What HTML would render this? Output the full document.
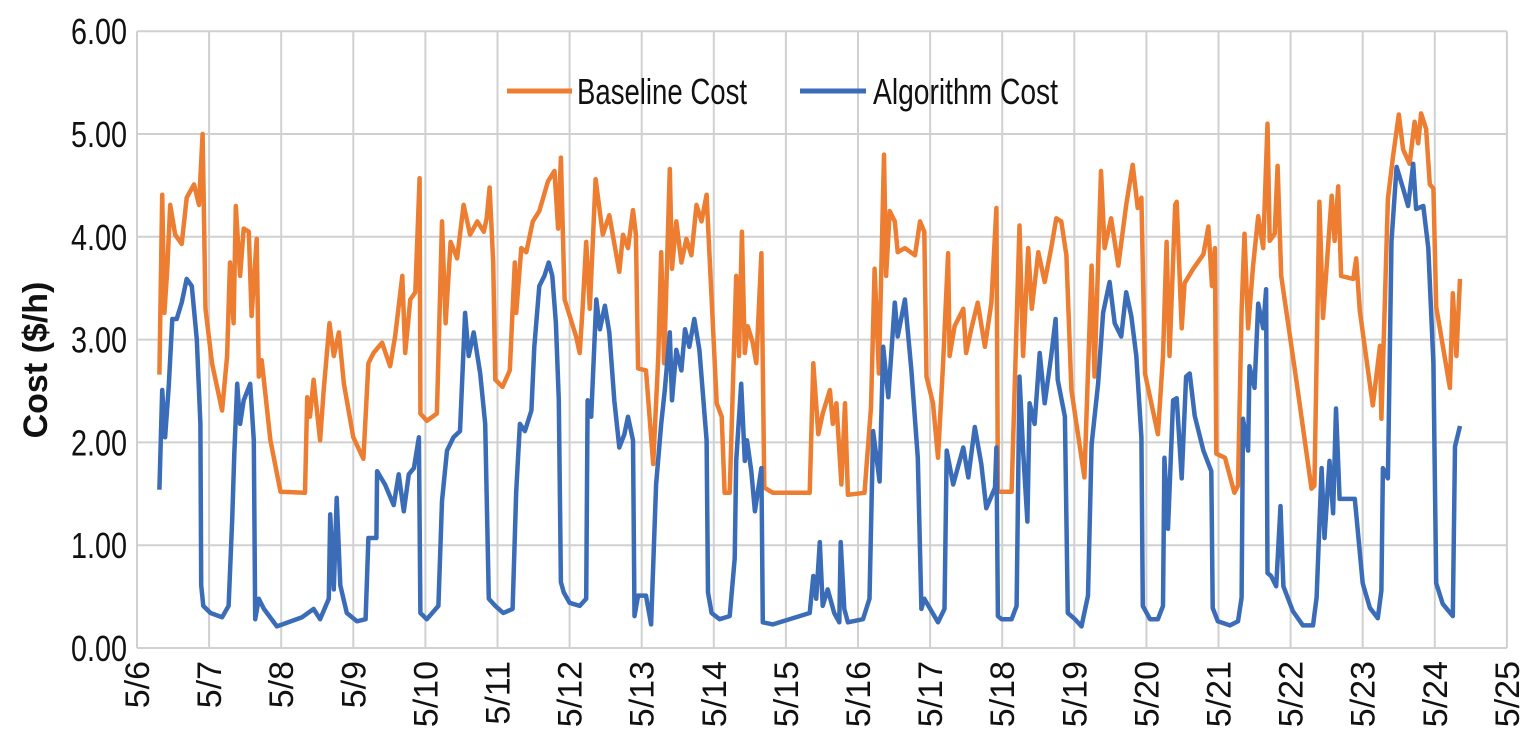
<!DOCTYPE html>
<html><head><meta charset="utf-8"><style>
body{margin:0;background:#fff;}
svg{display:block;font-family:"Liberation Sans Narrow","Liberation Sans",sans-serif;}
</style></head><body>
<svg id="chart" width="1531" height="744" viewBox="0 0 1531 744"></svg>
<script>
const xLabels=["5/6","5/7","5/8","5/9","5/10","5/11","5/12","5/13","5/14","5/15","5/16","5/17","5/18","5/19","5/20","5/21","5/22","5/23","5/24","5/25"];
const yTicks=[0,1,2,3,4,5,6];
const baseT=[0.31,0.35,0.38,0.42,0.46,0.53,0.62,0.69,0.79,0.86,0.91,0.95,1.04,1.18,1.25,1.29,1.34,1.37,1.43,1.48,1.55,1.59,1.66,1.69,1.73,1.85,1.99,2.33,2.36,2.40,2.45,2.54,2.59,2.67,2.73,2.80,2.87,3.0,3.14,3.21,3.28,3.40,3.51,3.58,3.68,3.72,3.79,3.86,3.92,3.93,4.02,4.16,4.23,4.28,4.35,4.44,4.53,4.62,4.72,4.81,4.85,4.89,4.94,4.97,5.07,5.17,5.24,5.26,5.33,5.40,5.49,5.58,5.70,5.79,5.84,5.88,5.93,6.09,6.14,6.18,6.23,6.28,6.36,6.46,6.55,6.69,6.74,6.81,6.88,6.92,6.95,7.06,7.16,7.23,7.27,7.31,7.39,7.42,7.48,7.55,7.62,7.69,7.76,7.83,7.90,7.94,8.04,8.11,8.15,8.22,8.31,8.35,8.39,8.43,8.47,8.54,8.59,8.66,8.70,8.82,9.33,9.38,9.45,9.51,9.61,9.65,9.70,9.77,9.82,9.86,10.09,10.18,10.23,10.29,10.36,10.39,10.44,10.51,10.55,10.65,10.79,10.86,10.92,10.95,11.04,11.11,11.18,11.25,11.27,11.34,11.46,11.50,11.57,11.66,11.76,11.85,11.92,11.94,12.13,12.20,12.24,12.29,12.36,12.41,12.50,12.59,12.68,12.75,12.82,12.89,12.96,13.14,13.24,13.28,13.37,13.42,13.51,13.61,13.72,13.81,13.88,13.93,13.98,14.16,14.23,14.28,14.32,14.40,14.42,14.49,14.53,14.65,14.79,14.86,14.91,14.95,14.97,15.09,15.22,15.27,15.32,15.36,15.41,15.48,15.55,15.62,15.68,15.71,15.78,15.82,15.87,16.08,16.29,16.33,16.40,16.45,16.57,16.61,16.66,16.70,16.87,16.91,16.96,17.14,17.24,17.26,17.35,17.42,17.50,17.56,17.65,17.72,17.77,17.81,17.88,17.93,17.98,18.02,18.21,18.25,18.30,18.35];
const baseV=[2.66,4.41,3.26,3.69,4.31,4.02,3.93,4.38,4.51,4.31,5.0,3.30,2.77,2.31,2.84,3.75,3.16,4.30,3.62,4.08,4.05,3.23,3.98,2.64,2.80,2.02,1.52,1.51,2.44,2.25,2.61,2.02,2.51,3.16,2.84,3.07,2.57,2.05,1.84,2.77,2.87,2.97,2.74,3.03,3.62,2.87,3.39,3.46,4.57,2.28,2.21,2.28,4.15,3.16,3.95,3.79,4.31,4.02,4.15,4.05,4.18,4.48,3.75,2.61,2.54,2.70,3.75,3.26,3.89,3.85,4.15,4.25,4.54,4.64,4.08,4.77,3.39,3.03,2.87,3.30,3.95,3.30,4.56,4.02,4.21,3.66,4.02,3.89,4.26,4.02,2.72,2.70,1.79,2.84,3.85,2.77,4.66,3.69,4.15,3.75,3.98,3.82,4.31,4.15,4.41,3.82,2.38,2.25,1.51,1.51,3.62,2.84,4.05,2.87,3.13,2.97,2.77,3.84,1.56,1.51,1.51,2.77,2.08,2.28,2.51,2.18,2.38,1.59,2.38,1.49,1.51,2.34,3.69,2.67,4.80,3.62,4.25,4.15,3.85,3.89,3.82,4.15,4.05,2.64,2.38,1.85,2.77,3.84,2.84,3.13,3.30,2.87,3.10,3.36,2.93,3.36,4.28,1.52,1.52,3.16,4.11,2.84,3.89,3.30,3.85,3.56,3.89,4.18,4.15,3.82,2.51,1.66,3.72,2.64,4.64,3.89,4.18,3.72,4.31,4.70,4.28,4.38,2.67,2.08,2.84,3.95,2.84,4.31,4.34,3.11,3.55,3.69,3.83,4.10,3.52,3.89,1.89,1.85,1.51,1.58,3.28,4.03,3.11,3.72,4.20,3.89,5.10,3.96,4.03,4.69,3.62,2.60,1.55,1.58,4.34,3.21,4.40,3.96,4.49,3.62,3.59,3.79,3.28,2.36,2.94,2.23,4.37,4.78,5.19,4.85,4.71,5.12,4.91,5.20,5.05,4.51,4.47,3.32,2.53,3.45,2.84,3.59];
const algT=[0.31,0.35,0.39,0.44,0.49,0.55,0.62,0.69,0.76,0.83,0.88,0.89,0.92,1.02,1.18,1.27,1.32,1.35,1.39,1.43,1.48,1.57,1.62,1.64,1.69,1.76,1.94,2.29,2.45,2.54,2.66,2.68,2.73,2.77,2.82,2.91,3.05,3.17,3.21,3.32,3.33,3.44,3.56,3.63,3.70,3.77,3.84,3.91,3.93,4.02,4.18,4.23,4.30,4.39,4.48,4.55,4.60,4.67,4.76,4.83,4.88,4.97,5.08,5.21,5.26,5.31,5.38,5.47,5.51,5.58,5.65,5.71,5.76,5.81,5.85,5.88,5.92,6.0,6.14,6.23,6.25,6.30,6.37,6.42,6.49,6.55,6.62,6.69,6.76,6.81,6.88,6.90,6.95,7.06,7.13,7.20,7.27,7.32,7.39,7.42,7.48,7.55,7.60,7.66,7.73,7.80,7.90,7.92,7.97,8.08,8.22,8.29,8.31,8.38,8.43,8.46,8.52,8.57,8.66,8.68,8.82,9.33,9.38,9.42,9.47,9.51,9.58,9.67,9.74,9.76,9.81,9.86,10.07,10.16,10.21,10.30,10.35,10.42,10.51,10.55,10.65,10.74,10.83,10.88,10.92,11.11,11.20,11.23,11.32,11.46,11.53,11.62,11.71,11.78,11.90,11.92,11.94,11.99,12.13,12.20,12.24,12.29,12.35,12.38,12.45,12.52,12.59,12.68,12.74,12.77,12.87,12.91,13.01,13.10,13.19,13.24,13.33,13.40,13.49,13.56,13.65,13.72,13.79,13.86,13.93,13.95,14.05,14.16,14.23,14.25,14.30,14.37,14.42,14.49,14.55,14.60,14.67,14.79,14.90,14.92,14.99,15.16,15.27,15.32,15.34,15.41,15.43,15.50,15.55,15.62,15.66,15.68,15.73,15.80,15.86,15.90,16.03,16.17,16.31,16.36,16.43,16.47,16.54,16.59,16.63,16.68,16.89,17.00,17.10,17.21,17.26,17.28,17.35,17.40,17.47,17.56,17.63,17.70,17.74,17.84,17.91,17.98,18.02,18.11,18.25,18.28,18.35];
const algV=[1.54,2.51,2.05,2.54,3.20,3.20,3.36,3.59,3.52,3.00,2.18,0.61,0.41,0.34,0.30,0.41,1.25,1.89,2.57,2.18,2.41,2.57,2.02,0.28,0.48,0.38,0.21,0.30,0.38,0.28,0.48,1.30,0.57,1.46,0.61,0.34,0.26,0.28,1.07,1.07,1.72,1.59,1.39,1.69,1.33,1.69,1.75,2.05,0.34,0.28,0.41,1.43,1.92,2.05,2.11,3.26,2.84,3.07,2.67,2.18,0.48,0.41,0.34,0.38,1.52,2.18,2.11,2.31,2.93,3.52,3.62,3.75,3.62,3.16,2.41,0.64,0.54,0.44,0.41,0.48,2.41,2.25,3.39,3.10,3.33,3.07,2.41,1.95,2.08,2.25,2.02,0.31,0.51,0.51,0.23,1.59,2.18,2.51,3.07,2.41,2.90,2.70,3.10,2.93,3.20,2.90,2.02,0.54,0.34,0.28,0.31,0.87,1.82,2.57,1.82,2.02,1.72,1.33,1.75,0.25,0.23,0.34,0.70,0.48,1.03,0.41,0.57,0.34,0.25,1.03,0.38,0.25,0.28,0.48,2.11,1.62,2.93,2.44,3.36,3.03,3.39,2.70,1.85,0.38,0.48,0.25,0.38,1.92,1.59,1.95,1.66,2.15,1.79,1.36,1.56,1.95,0.31,0.28,0.28,0.41,2.64,1.92,1.23,2.38,2.18,2.87,2.38,2.84,3.20,2.61,2.25,0.34,0.28,0.21,0.51,1.98,2.57,3.26,3.56,3.16,3.03,3.46,3.23,2.84,2.05,0.41,0.28,0.28,0.41,1.85,1.16,2.41,2.43,1.65,2.64,2.67,2.26,1.92,1.72,0.39,0.26,0.22,0.26,0.49,2.23,1.92,2.74,2.53,3.35,3.11,3.49,0.73,0.70,0.60,1.38,0.60,0.36,0.22,0.22,0.49,1.75,1.07,1.82,1.31,2.33,1.45,1.45,0.63,0.39,0.29,0.56,1.75,1.65,3.96,4.68,4.47,4.30,4.71,4.27,4.30,3.89,2.77,0.63,0.43,0.31,1.96,2.16];

const NS="http://www.w3.org/2000/svg";
const svg=document.getElementById('chart');
const X0=137,DX=72.1,Y0=648,DY=102.8;
function xs(t){return X0+t*DX;}
function ys(v){return Y0-v*DY;}
function mk(tag,attrs,parent){const e=document.createElementNS(NS,tag);for(const k in attrs)e.setAttribute(k,attrs[k]);(parent||svg).appendChild(e);return e;}

const grid=mk('g',{});


xLabels.forEach((l,i)=>{mk('line',{x1:xs(i),x2:xs(i),y1:ys(6),y2:ys(0),stroke:'#d0d0d0','stroke-width':2},grid);});
yTicks.forEach(v=>{mk('line',{x1:X0,x2:xs(19),y1:ys(v),y2:ys(v),stroke:'#d0d0d0','stroke-width':2},grid);});

yTicks.forEach(v=>{
  const t=mk('text',{x:127,y:ys(v)+13,'text-anchor':'end','font-size':36,fill:'#111',textLength:56,lengthAdjust:'spacingAndGlyphs'});
  t.textContent=v.toFixed(2);
  
  
});
xLabels.forEach((l,i)=>{
  const t=mk('text',{x:0,y:0,'text-anchor':'end','font-size':34,fill:'#111',transform:`translate(${xs(i)+12},661) rotate(-90)`});
  t.textContent=l;
  
  
});
const yt=mk('text',{x:0,y:0,'text-anchor':'middle','font-size':34,'font-weight':'bold',fill:'#111',transform:'translate(47,360) rotate(-90)'});
yt.textContent='Cost ($/h)';



function line(T,V,color,name){
  const d=T.map((t,i)=>(i?'L':'M')+xs(t).toFixed(1)+','+ys(V[i]).toFixed(1)).join('');
  const p=mk('path',{d:d,fill:'none',stroke:color,'stroke-width':4.5,'stroke-linejoin':'round'});
  
  
}
line(baseT,baseV,'#ed7d31','baseline-cost-line');
line(algT,algV,'#3a6cb7','algorithm-cost-line');

const lg=mk('g',{});


mk('line',{x1:507,x2:572,y1:91,y2:91,stroke:'#ed7d31','stroke-width':5},lg);
const l1=mk('text',{x:577,y:104,'font-size':36,fill:'#111',textLength:170,lengthAdjust:'spacingAndGlyphs'},lg);
l1.textContent='Baseline Cost';


mk('line',{x1:800,x2:866,y1:91,y2:91,stroke:'#3a6cb7','stroke-width':5},lg);
const l2=mk('text',{x:873,y:104,'font-size':36,fill:'#111',textLength:185,lengthAdjust:'spacingAndGlyphs'},lg);
l2.textContent='Algorithm Cost';


</script>
</body></html>
